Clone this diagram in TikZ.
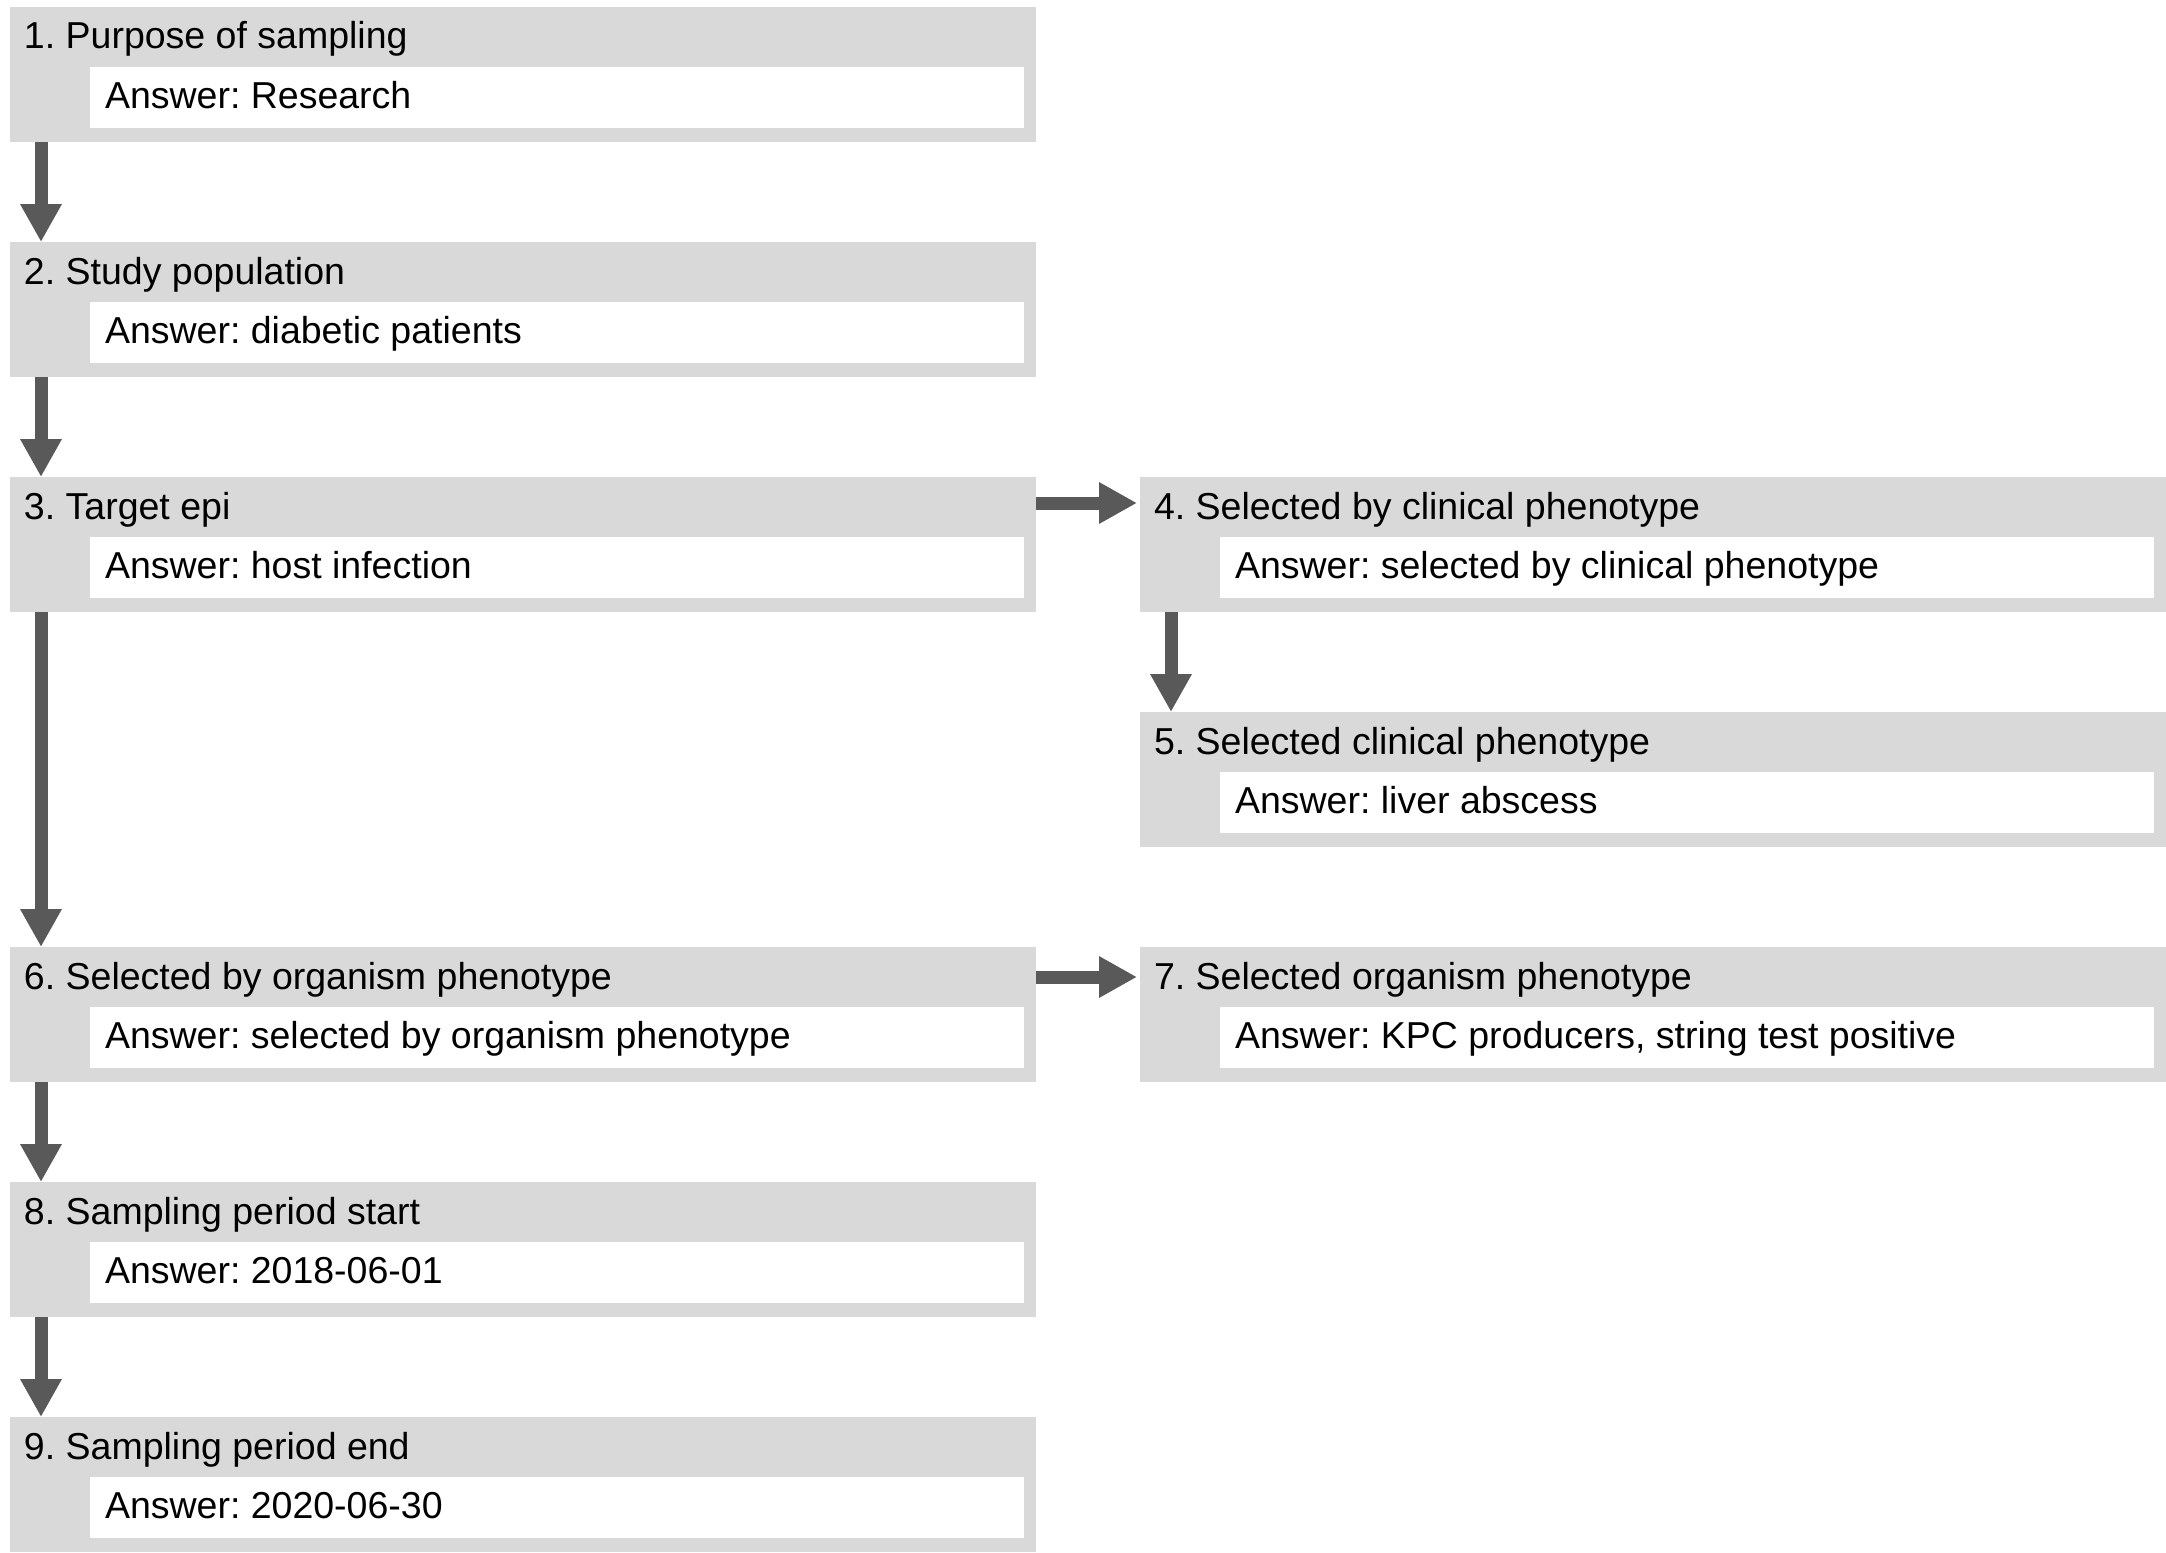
\documentclass[tikz,border=0pt]{standalone}
\usepackage{fontspec}
\setmainfont{Liberation Sans}
\usetikzlibrary{arrows.meta}
\definecolor{boxgray}{HTML}{D9D9D9}
\definecolor{arrgray}{HTML}{595959}
\frenchspacing
\tikzset{
  outerbox/.style={fill=boxgray, draw=none, anchor=north west, inner sep=0pt, outer sep=0pt, minimum width=513pt, minimum height=67.5pt},
  innerbox/.style={fill=white, draw=none, anchor=north west, inner sep=0pt, outer sep=0pt, minimum width=466.75pt, minimum height=30.5pt},
  qtext/.style={anchor=base west, inner sep=0pt, outer sep=0pt, font=\fontsize{18.75}{22}\selectfont\frenchspacing},
  flowarrow/.style={draw=arrgray, line width=6.5pt, -{Triangle[length=19pt,width=19.5pt]}}
}
\newcommand\qbox[5]{%
  \node[outerbox] (#1) at (#2,#3) {};
  \node[innerbox] (#1a) at ({#2+80},{#3+60}) {};
  \node[qtext] (#1t) at ({#2+14},{#3+42}) {#4};
  \node[qtext] (#1x) at ({#2+95},{#3+101.5}) {#5};
}
\begin{document}
\begin{tikzpicture}[x=0.5pt, y=-0.5pt]
\useasboundingbox (0,0) rectangle (2166,1552);
\qbox{b1}{10}{7}{1. Purpose of sampling}{Answer: Research}
\qbox{b2}{10}{242}{2. Study population}{Answer: diabetic patients}
\qbox{b3}{10}{477}{3. Target epi}{Answer: host infection}
\qbox{b4}{1140}{477}{4. Selected by clinical phenotype}{Answer: selected by clinical phenotype}
\qbox{b5}{1140}{712}{5. Selected clinical phenotype}{Answer: liver abscess}
\qbox{b6}{10}{947}{6. Selected by organism phenotype}{Answer: selected by organism phenotype}
\qbox{b7}{1140}{947}{7. Selected organism phenotype}{Answer: KPC producers, string test positive}
\qbox{b8}{10}{1182}{8. Sampling period start}{Answer: 2018-06-01}
\qbox{b9}{10}{1417}{9. Sampling period end}{Answer: 2020-06-30}
\draw[flowarrow] ([xshift=15.5pt]b1.south west) -- ([xshift=15.5pt]b2.north west);
\draw[flowarrow] ([xshift=15.5pt]b2.south west) -- ([xshift=15.5pt]b3.north west);
\draw[flowarrow] ([xshift=15.5pt]b3.south west) -- ([xshift=15.5pt]b6.north west);
\draw[flowarrow] ([xshift=15.5pt]b4.south west) -- ([xshift=15.5pt]b5.north west);
\draw[flowarrow] ([xshift=15.5pt]b6.south west) -- ([xshift=15.5pt]b8.north west);
\draw[flowarrow] ([xshift=15.5pt]b8.south west) -- ([xshift=15.5pt]b9.north west);
\draw[flowarrow] ([yshift=-13pt]b3.north east) -- ([xshift=-1.5pt,yshift=-13pt]b4.north west);
\draw[flowarrow] ([yshift=-15pt]b6.north east) -- ([xshift=-1.5pt,yshift=-15pt]b7.north west);
\end{tikzpicture}
\end{document}
